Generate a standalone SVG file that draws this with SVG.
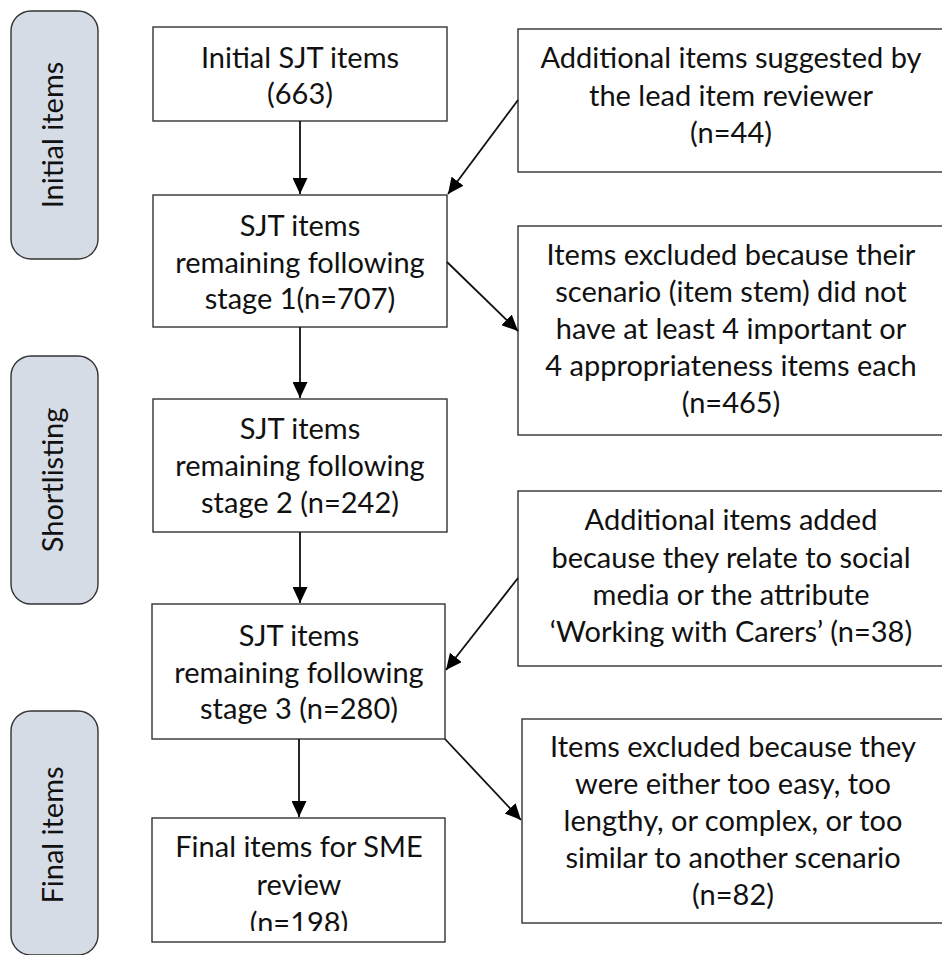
<svg xmlns="http://www.w3.org/2000/svg" width="942" height="955" viewBox="0 0 942 955">
  <style>
    .box { fill: #ffffff; stroke: #333333; stroke-width: 1.4; }
    .phase { fill: #d6dce5; stroke: #333333; stroke-width: 1.4; }
    .label { font-family: Lato, "Open Sans", "Liberation Sans", sans-serif; font-size: 29px; fill: #111111; text-anchor: middle; }
    .phase-label { font-family: Lato, "Open Sans", "Liberation Sans", sans-serif; font-size: 29px; fill: #111111; text-anchor: middle; }
    .conn { stroke: #111111; stroke-width: 1.8; fill: none; marker-end: url(#arrow); }
  </style>
  <defs>
    <marker id="arrow" viewBox="0 0 16 15" refX="16" refY="7.5" markerWidth="16" markerHeight="15" markerUnits="userSpaceOnUse" orient="auto">
      <path d="M0,0 L16,7.5 L0,15 Z" fill="#000000"/>
    </marker>
    <clipPath id="finalClip">
      <rect x="152" y="818" width="293" height="113"/>
    </clipPath>
  </defs>
  <rect width="942" height="955" fill="#ffffff"/>

  <!-- phase labels on the left -->
  <g id="phase-initial">
    <rect class="phase" x="11" y="11" width="87" height="248" rx="20"/>
    <text class="phase-label" transform="translate(63,135) rotate(-90)">Initial items</text>
  </g>
  <g id="phase-shortlisting">
    <rect class="phase" x="11" y="356" width="87" height="248" rx="20"/>
    <text class="phase-label" transform="translate(63,480) rotate(-90)">Shortlisting</text>
  </g>
  <g id="phase-final">
    <rect class="phase" x="11" y="711" width="87" height="244" rx="20"/>
    <text class="phase-label" transform="translate(63,835) rotate(-90)">Final items</text>
  </g>

  <!-- main flow column -->
  <g id="initial-sjt">
    <rect class="box" x="153" y="27" width="294" height="94"/>
    <text class="label" x="300" y="68">Initial SJT items</text>
    <text class="label" x="300" y="104">(663)</text>
  </g>
  <g id="stage1">
    <rect class="box" x="153" y="195" width="294" height="132"/>
    <text class="label" x="300" y="236">SJT items</text>
    <text class="label" x="300" y="273">remaining following</text>
    <text class="label" x="300" y="309">stage 1(n=707)</text>
  </g>
  <g id="stage2">
    <rect class="box" x="153" y="399" width="294" height="133"/>
    <text class="label" x="300" y="439">SJT items</text>
    <text class="label" x="300" y="476">remaining following</text>
    <text class="label" x="300" y="513">stage 2 (n=242)</text>
  </g>
  <g id="stage3">
    <rect class="box" x="152" y="604" width="293" height="135"/>
    <text class="label" x="299" y="646">SJT items</text>
    <text class="label" x="299" y="683">remaining following</text>
    <text class="label" x="299" y="719">stage 3 (n=280)</text>
  </g>
  <g id="final-sme">
    <rect class="box" x="152" y="818" width="293" height="124"/>
    <g clip-path="url(#finalClip)">
      <text class="label" x="299" y="857">Final items for SME</text>
      <text class="label" x="299" y="895">review</text>
      <text class="label" x="299" y="933">(n=198)</text>
    </g>
  </g>

  <!-- side boxes on the right (run past the right edge) -->
  <g id="added-reviewer">
    <rect class="box" x="518" y="29" width="440" height="143"/>
    <text class="label" x="731" y="68">Additional items suggested by</text>
    <text class="label" x="731" y="106">the lead item reviewer</text>
    <text class="label" x="731" y="143">(n=44)</text>
  </g>
  <g id="excluded-stem">
    <rect class="box" x="518" y="226" width="440" height="209"/>
    <text class="label" x="731" y="265">Items excluded because their</text>
    <text class="label" x="731" y="302">scenario (item stem) did not</text>
    <text class="label" x="731" y="339">have at least 4 important or</text>
    <text class="label" x="731" y="376">4 appropriateness items each</text>
    <text class="label" x="731" y="413">(n=465)</text>
  </g>
  <g id="added-social">
    <rect class="box" x="518" y="491" width="440" height="175"/>
    <text class="label" x="731" y="530">Additional items added</text>
    <text class="label" x="731" y="568">because they relate to social</text>
    <text class="label" x="731" y="605">media or the attribute</text>
    <text class="label" x="731" y="642">‘Working with Carers’ (n=38)</text>
  </g>
  <g id="excluded-difficulty">
    <rect class="box" x="522" y="719" width="440" height="204"/>
    <text class="label" x="733" y="757">Items excluded because they</text>
    <text class="label" x="733" y="794">were either too easy, too</text>
    <text class="label" x="733" y="831">lengthy, or complex, or too</text>
    <text class="label" x="733" y="868">similar to another scenario</text>
    <text class="label" x="733" y="905">(n=82)</text>
  </g>

  <!-- connectors -->
  <g id="connectors">
    <line class="conn" x1="300" y1="121" x2="300" y2="194"/>
    <line class="conn" x1="300" y1="327" x2="300" y2="398"/>
    <line class="conn" x1="300" y1="532" x2="300" y2="603"/>
    <line class="conn" x1="299" y1="739" x2="299" y2="817"/>
    <line class="conn" x1="518" y1="100" x2="448" y2="194"/>
    <line class="conn" x1="447" y1="262" x2="518" y2="331"/>
    <line class="conn" x1="518" y1="578" x2="446" y2="670"/>
    <line class="conn" x1="445" y1="739" x2="521" y2="820"/>
  </g>
</svg>
